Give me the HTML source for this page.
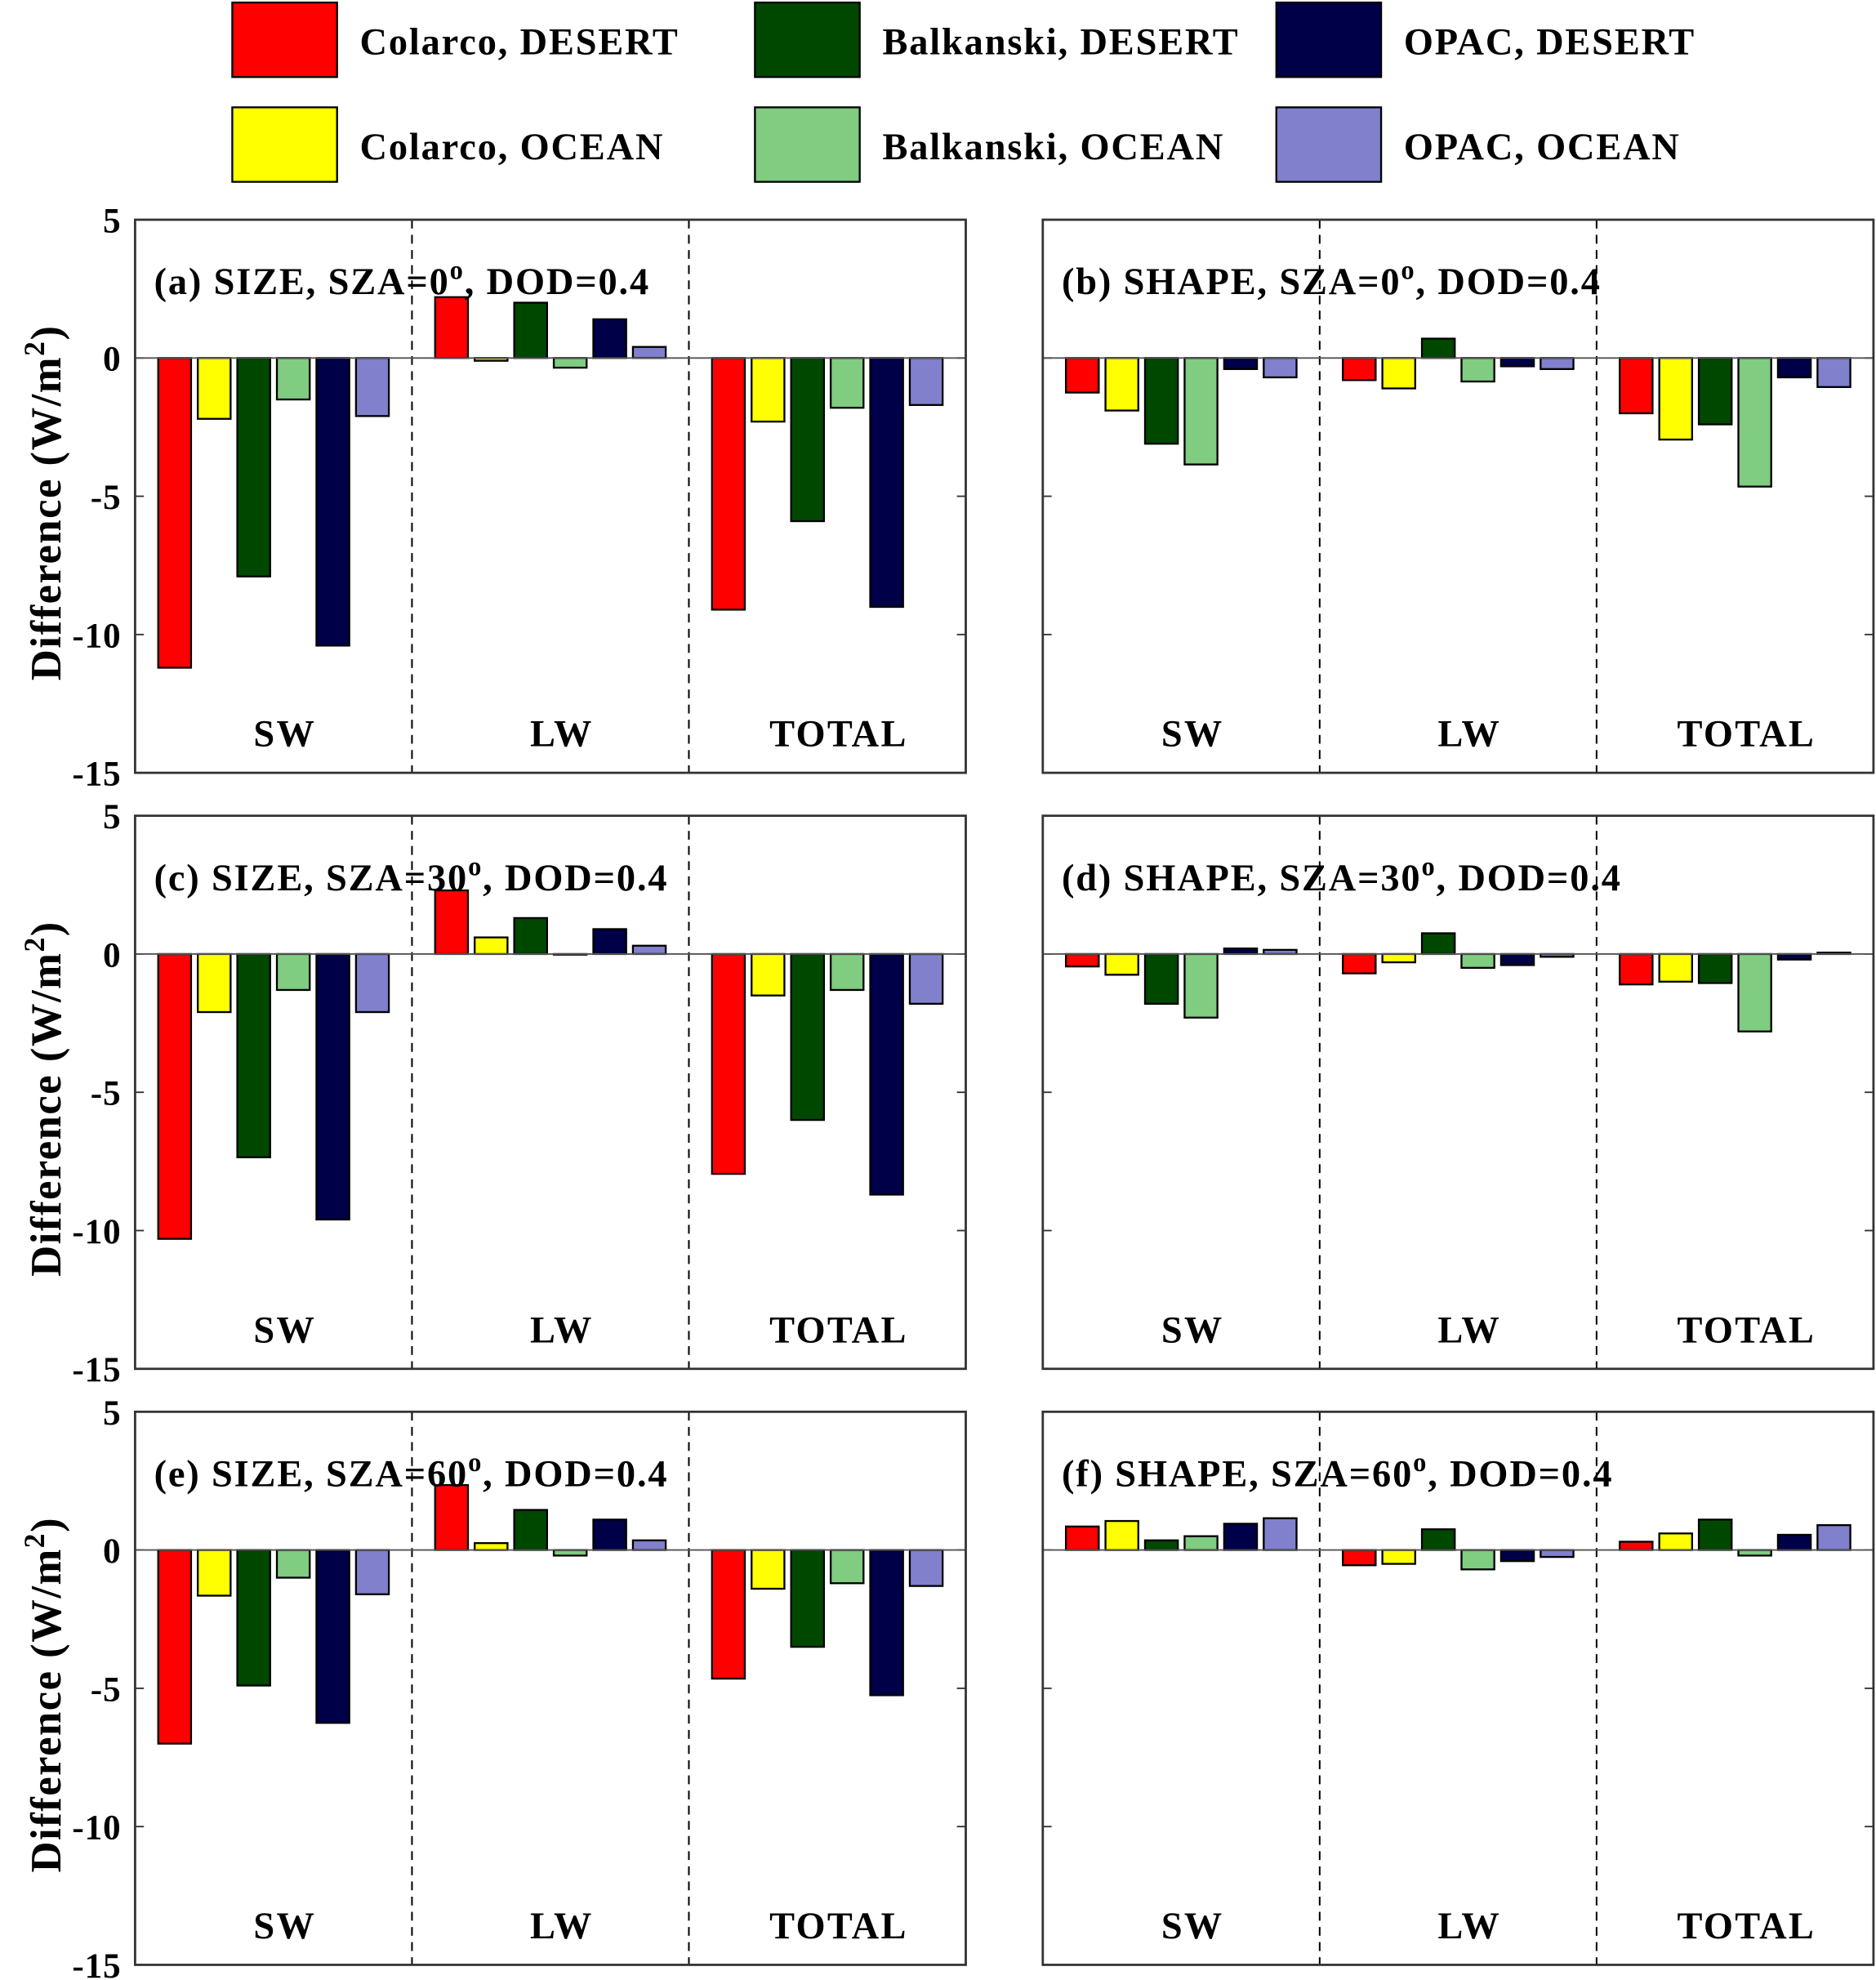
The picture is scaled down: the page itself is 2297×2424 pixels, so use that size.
<!DOCTYPE html>
<html><head><meta charset="utf-8">
<style>
html,body{margin:0;padding:0;background:#fff;}
svg{display:block;font-family:"Liberation Serif",serif;font-weight:bold;}
</style></head>
<body>
<svg id="fig" width="2297" height="2424" viewBox="0 0 1486 1568" preserveAspectRatio="none" xmlns="http://www.w3.org/2000/svg">
<g id="legend"></g>
<g id="panels"></g>
</svg>
<script>
const seriesNames = ["Colarco, DESERT","Colarco, OCEAN","Balkanski, DESERT","Balkanski, OCEAN","OPAC, DESERT","OPAC, OCEAN"];
const seriesColors = ["#ff0000","#ffff00","#004800","#80cc80","#000048","#8080cc"];
const groups = ["SW","LW","TOTAL"];
const yTicks = [5,0,-5,-10,-15];
const panelTitles = ["(a) SIZE, SZA=0","(b) SHAPE, SZA=0","(c) SIZE, SZA=30","(d) SHAPE, SZA=30","(e) SIZE, SZA=60","(f) SHAPE, SZA=60"];
// values per panel: [group][series]
const panelA = [[-11.2,-2.2,-7.9,-1.5,-10.4,-2.1],[2.2,-0.1,2.0,-0.35,1.4,0.4],[-9.1,-2.3,-5.9,-1.8,-9.0,-1.7]];
const panelB = [[-1.25,-1.9,-3.1,-3.85,-0.4,-0.7],[-0.8,-1.1,0.7,-0.85,-0.3,-0.4],[-2.0,-2.95,-2.4,-4.65,-0.7,-1.05]];
const panelC = [[-10.3,-2.1,-7.35,-1.3,-9.6,-2.1],[2.3,0.6,1.3,0,0.9,0.3],[-7.95,-1.5,-6.0,-1.3,-8.7,-1.8]];
const panelD = [[-0.45,-0.75,-1.8,-2.3,0.2,0.15],[-0.7,-0.3,0.75,-0.5,-0.4,-0.1],[-1.1,-1.0,-1.05,-2.8,-0.2,0.05]];
const panelE = [[-7.0,-1.65,-4.9,-1.0,-6.25,-1.6],[2.35,0.25,1.45,-0.2,1.1,0.35],[-4.65,-1.4,-3.5,-1.2,-5.25,-1.3]];
const panelF = [[0.85,1.05,0.35,0.5,0.95,1.15],[-0.55,-0.5,0.75,-0.7,-0.4,-0.25],[0.3,0.6,1.1,-0.2,0.55,0.9]];
const panelData = [panelA,panelB,panelC,panelD,panelE,panelF];

const NS="http://www.w3.org/2000/svg";
function mk(tag, attrs, parent){const e=document.createElementNS(NS,tag);for(const k in attrs)e.setAttribute(k,attrs[k]);parent.appendChild(e);return e;}

// legend
const leg=document.getElementById('legend');
const legX=[184,598,1011], legY=[2,85];
seriesNames.forEach((n,i)=>{
  const col=Math.floor(i/2), row=i%2;
  const g=mk('g',{},leg);
  
  
  mk('rect',{x:legX[col],y:legY[row],width:83,height:59,fill:seriesColors[i],stroke:'#000','stroke-width':1.5},g);
  const t=mk('text',{x:legX[col]+101,y:legY[row]+41,'font-size':30,'letter-spacing':1.2},g);
  t.textContent=n;
});

const panels=document.getElementById('panels');
const pLeft=[107,826], pW=658, pTop=[174,646,1118], pH=438;
panelData.forEach((data,pi)=>{
  const col=pi%2,row=Math.floor(pi/2);
  const x0=pLeft[col], y0=pTop[row];
  const yScale=v=>y0+(5-v)*pH/20;
  const gW=pW/3, slot=gW/7, bw=26;
  const g=mk('g',{},panels);
  
  
  yTicks.forEach(v=>{
    const y=yScale(v);
    mk('line',{x1:x0,y1:y,x2:x0+7,y2:y,stroke:'#333','stroke-width':1.2},g);
    mk('line',{x1:x0+pW,y1:y,x2:x0+pW-7,y2:y,stroke:'#333','stroke-width':1.2},g);
    if(col===0){
      const t=mk('text',{x:x0-11,y:y+10,'font-size':28,'text-anchor':'end','letter-spacing':0.5},g);
      
      
      t.textContent=v;
    }
  });
  for(let k=1;k<3;k++){
    const l=mk('line',{x1:x0+gW*k,y1:y0,x2:x0+gW*k,y2:y0+pH,stroke:'#000','stroke-width':1.3,'stroke-dasharray':'7,5'},g);
    
    
  }
  data.forEach((vals,gi)=>{
    vals.forEach((v,si)=>{
      const cx=x0+gi*gW+slot*(si+1);
      const y1=yScale(Math.max(v,0)), y2=yScale(Math.min(v,0));
      const r=mk('rect',{x:cx-bw/2,y:y1,width:bw,height:Math.max(y2-y1,0.5),fill:seriesColors[si],stroke:'#000','stroke-width':1.5},g);
      
      
    });
    const t=mk('text',{x:x0+gi*gW+gW/2+9,y:y0+pH-21,'font-size':30,'text-anchor':'middle','letter-spacing':1.5},g);
    
    
    t.textContent=groups[gi];
  });
  mk('line',{x1:x0,y1:yScale(0),x2:x0+pW,y2:yScale(0),stroke:'#555','stroke-width':1.2},g);
  mk('rect',{x:x0,y:y0,width:pW,height:pH,fill:'none',stroke:'#333','stroke-width':1.8},g);
  const t=mk('text',{x:x0+15,y:y0+59,'font-size':30,'letter-spacing':1.2},g);
  
  
  t.appendChild(document.createTextNode(panelTitles[pi]));
  const sup=mk('tspan',{dy:-12,'font-size':21},t); sup.textContent='o';
  const rest=mk('tspan',{dy:12},t); rest.textContent=', DOD=0.4';
  if(col===0){
    const cy=y0+pH/2+5;
    const yt=mk('text',{x:0,y:0,'font-size':34,'text-anchor':'middle','letter-spacing':1,transform:`translate(48,${cy}) rotate(-90)`},g);
    
    
    yt.appendChild(document.createTextNode('Difference (W/m'));
    const s2=mk('tspan',{dy:-13,'font-size':23},yt); s2.textContent='2';
    const s3=mk('tspan',{dy:13},yt); s3.textContent=')';
  }
});
</script>
</body></html>
